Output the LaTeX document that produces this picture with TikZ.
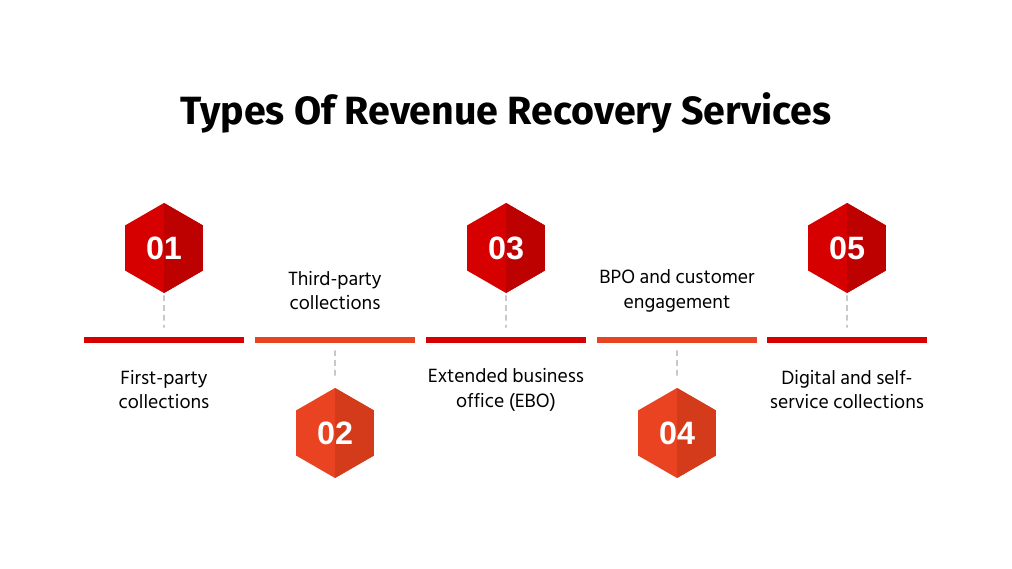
\documentclass[tikz,border=0pt]{standalone}
\usepackage{fontspec}
\setmainfont{Hind Siliguri}
\newfontfamily\titlefont{Fira Sans}
\newfontfamily\numfont{Liberation Sans}
\usetikzlibrary{shapes.geometric}

\definecolor{redlight}{HTML}{D70000}
\definecolor{reddark}{HTML}{BD0000}
\definecolor{orangelight}{HTML}{EA4322}
\definecolor{orangedark}{HTML}{D33B1B}
\definecolor{tickgray}{HTML}{C8C8C8}

\tikzset{
  hexa/.style 2 args={regular polygon, regular polygon sides=6, shape border rotate=30,
    minimum size=2.25cm, inner sep=0pt, fill=#1, text=white,
    font=\numfont\bfseries\fontsize{23}{23}\selectfont,
    path picture={\fill[#2] (path picture bounding box.north)
      rectangle (path picture bounding box.south east);}},
  bar/.style={rectangle, fill=#1, minimum width=3.98cm, minimum height=0.15cm, inner sep=0pt},
  label/.style={align=center, font=\fontsize{14}{17.7}\selectfont},
  tick/.style={draw=tickgray, line width=1.4pt, dash pattern=on 4pt off 3pt}
}

\begin{document}
\begin{tikzpicture}[x=0.025cm,y=0.025cm]
  \useasboundingbox (0,0) rectangle (1012,569);

  \node (title) at (506,456) {\titlefont\bfseries\fontsize{28}{28}\selectfont Types Of Revenue Recovery Services};

  % timeline bars
  \node[bar=redlight] (S1) at (164,229) {};
  \node[bar=orangelight] (S2) at (335,229) {};
  \node[bar=redlight] (S3) at (506,229) {};
  \node[bar=orangelight] (S4) at (677,229) {};
  \node[bar=redlight] (S5) at (847,229) {};

  % hexagons, odd ones above the line, even ones below
  \node[hexa={redlight}{reddark}] (H1) at (164,321) {01};
  \node[hexa={orangelight}{orangedark}] (H2) at (335,136) {02};
  \node[hexa={redlight}{reddark}] (H3) at (506,321) {03};
  \node[hexa={orangelight}{orangedark}] (H4) at (677,136) {04};
  \node[hexa={redlight}{reddark}] (H5) at (847,321) {05};

  \begin{scope}[every node/.style={label}]
    \node (L1) at (164,179.5) {First-party\\collections};
    \node (L2) at (335,278.5) {Third-party\\collections};
    \node (L3) at (506,179.5) {Extended business\\office (EBO)};
    \node (L4) at (677,278.5) {BPO and customer\\engagement};
    \node (L5) at (847,179.5) {Digital and self-\\service collections};
  \end{scope}

  \begin{scope}[every path/.style={tick}]
    \draw[shorten <=1.4pt, shorten >=6.4pt] (H1.south) -- (S1.north);
    \draw[shorten <=1.4pt, shorten >=6.4pt] (H3.south) -- (S3.north);
    \draw[shorten <=1.4pt, shorten >=6.4pt] (H5.south) -- (S5.north);
    \draw[shorten <=5pt, shorten >=5.7pt] (S2.south) -- (H2.north);
    \draw[shorten <=5pt, shorten >=5.7pt] (S4.south) -- (H4.north);
  \end{scope}
\end{tikzpicture}
\end{document}
